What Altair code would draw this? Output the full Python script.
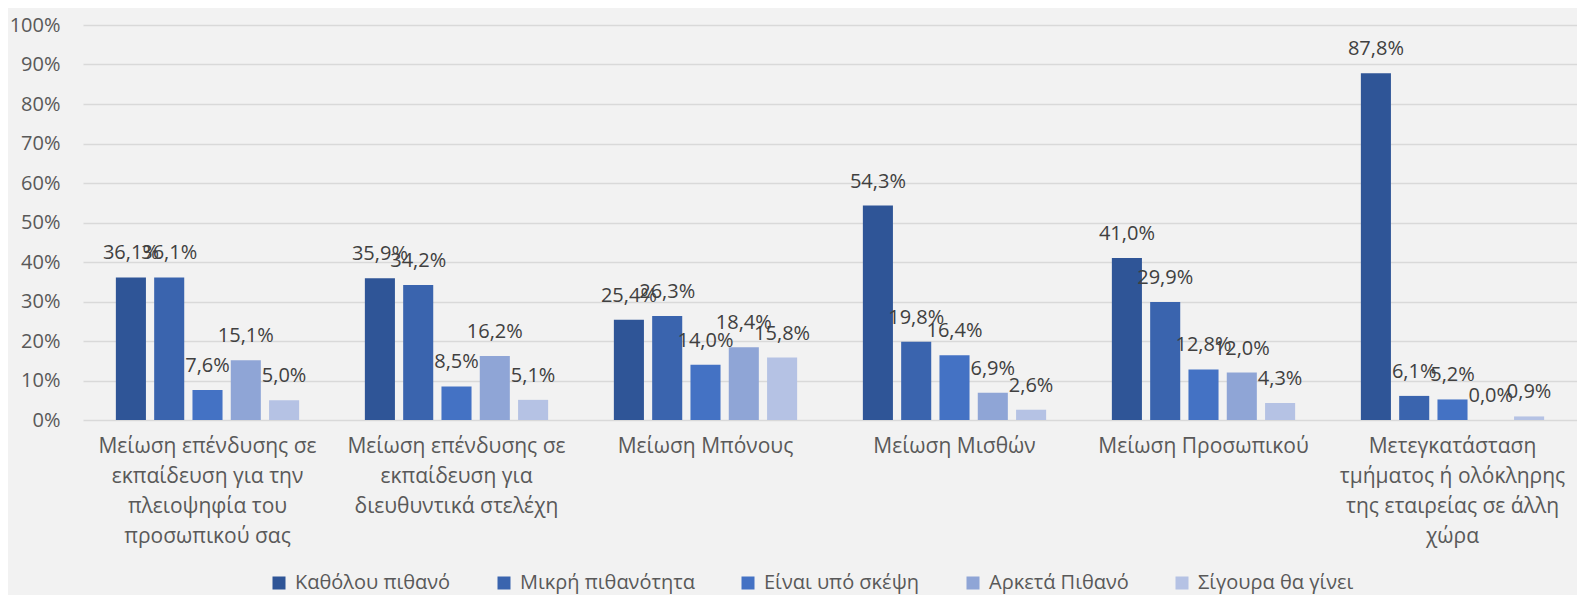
import altair as alt
import pandas as pd

categories = [
    "Μείωση επένδυσης σε|εκπαίδευση για την|πλειοψηφία του|προσωπικού σας",
    "Μείωση επένδυσης σε|εκπαίδευση για|διευθυντικά στελέχη",
    "Μείωση Μπόνους",
    "Μείωση Μισθών",
    "Μείωση Προσωπικού",
    "Μετεγκατάσταση|τμήματος ή ολόκληρης|της εταιρείας σε άλλη|χώρα",
]
series = ["Καθόλου πιθανό", "Μικρή πιθανότητα", "Είναι υπό σκέψη", "Αρκετά Πιθανό", "Σίγουρα θα γίνει"]
values = {
    "Καθόλου πιθανό":   [36.1, 35.9, 25.4, 54.3, 41.0, 87.8],
    "Μικρή πιθανότητα": [36.1, 34.2, 26.3, 19.8, 29.9, 6.1],
    "Είναι υπό σκέψη":  [7.6, 8.5, 14.0, 16.4, 12.8, 5.2],
    "Αρκετά Πιθανό":    [15.1, 16.2, 18.4, 6.9, 12.0, 0.0],
    "Σίγουρα θα γίνει": [5.0, 5.1, 15.8, 2.6, 4.3, 0.9],
}
colors = ["#2F5597", "#3A64AE", "#4472C4", "#8FA5D6", "#B5C2E4"]

rows = []
for s in series:
    for c, v in zip(categories, values[s]):
        rows.append({"cat": c, "series": s, "value": v,
                     "label": f"{v:.1f}%".replace(".", ",")})
df = pd.DataFrame(rows)

FONT = "Open Sans"

x = alt.X("cat:N", sort=categories,
          scale=alt.Scale(paddingInner=0.264, paddingOuter=0.132),
          axis=alt.Axis(title=None, labelAngle=0, ticks=False, domain=False,
                        labelExpr="split(datum.label, '|')", labelFontSize=21,
                        labelColor="#595959", labelPadding=15, labelLineHeight=30,
                        labelFont=FONT, labelLimit=400))
xo = alt.XOffset("series:N", sort=series, scale=alt.Scale(paddingInner=0.215, paddingOuter=0))
y = alt.Y("value:Q", scale=alt.Scale(domain=[0, 100], nice=False),
          axis=alt.Axis(title=None, values=list(range(0, 101, 10)), labelExpr="datum.value + '%'",
                        ticks=False, domain=False, labelFontSize=20, labelColor="#595959",
                        labelPadding=23, labelFont=FONT,
                        gridColor="#D9D9D9", gridWidth=1.5))
color = alt.Color("series:N", sort=series, scale=alt.Scale(domain=series, range=colors),
                  legend=alt.Legend(title=None, orient="none", direction="horizontal",
                                    legendX=186, legendY=548, columns=5,
                                    symbolType="square", symbolSize=169, symbolStrokeWidth=0,
                                    labelFontSize=20, labelColor="#595959", labelFont=FONT,
                                    labelOffset=6, columnPadding=43, labelLimit=400))

bars = alt.Chart(df).mark_bar().encode(x=x, xOffset=xo, y=y, color=color)
text = alt.Chart(df).mark_text(baseline="alphabetic", dy=-18, fontSize=20, color="#404040",
                               font=FONT).encode(
    x=x, xOffset=xo, y=y, text="label:N")

chart = (bars + text).properties(
    width=1494, height=395,
    autosize=alt.AutoSizeParams(type="none"),
    padding={"left": 75, "top": 17, "right": 0, "bottom": 175},
    background="#F2F2F2",
).configure_view(stroke=None)

chart.save("out.html", embed_options={"renderer": "svg", "actions": False})
